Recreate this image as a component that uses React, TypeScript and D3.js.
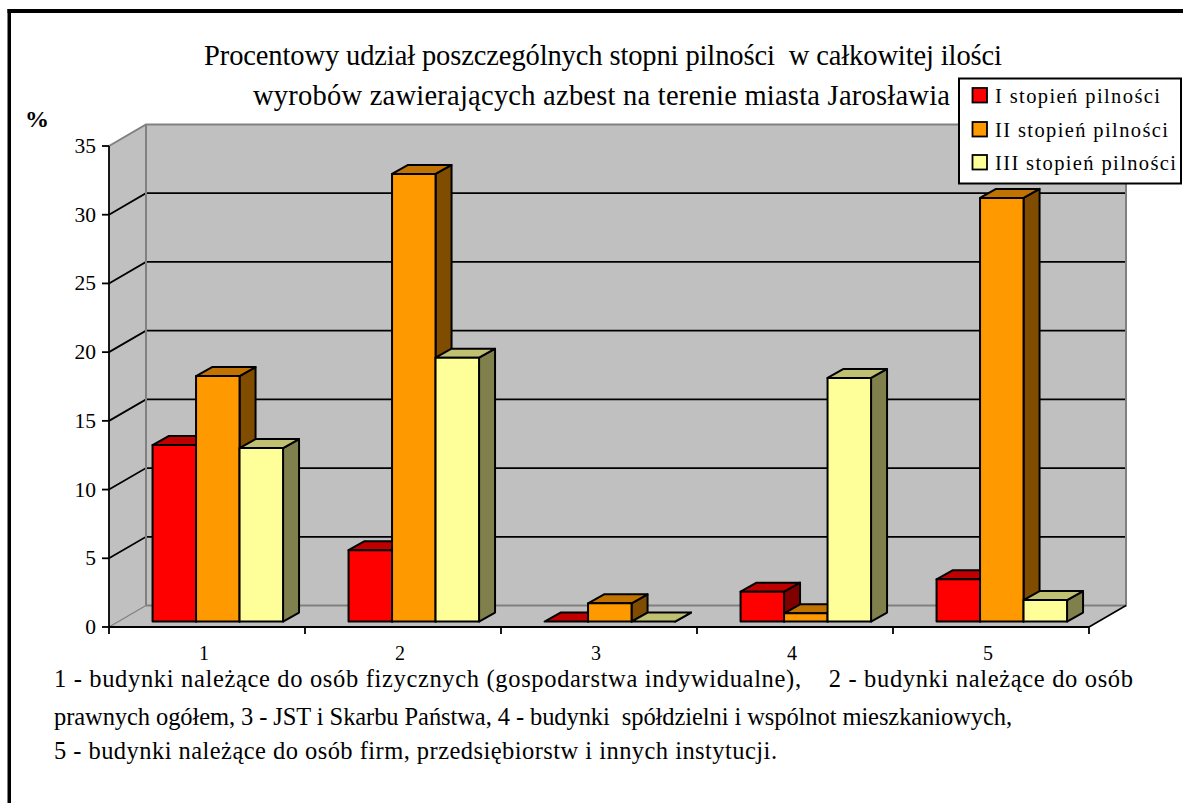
import React from "react";
import * as d3 from "d3";

const categories = ["1", "2", "3", "4", "5"];
const seriesNames = ["I stopień pilności", "II stopień pilności", "III stopień pilności"];
const stopienI = [12.85, 5.2, 0, 2.18, 3.08];
const stopienII = [17.87, 32.57, 1.33, 0.6, 30.83];
const stopienIII = [12.63, 19.2, 0, 17.73, 1.57];
const yTicks = [0, 5, 10, 15, 20, 25, 30, 35];
const titleLines = [
  "Procentowy udział poszczególnych stopni pilności  w całkowitej ilości",
  "wyrobów zawierających azbest na terenie miasta Jarosławia",
];
const noteLines = [
  "1 - budynki należące do osób fizycznych (gospodarstwa indywidualne),    2 - budynki należące do osób",
  "prawnych ogółem, 3 - JST i Skarbu Państwa, 4 - budynki  spółdzielni i wspólnot mieszkaniowych,",
  "5 - budynki należące do osób firm, przedsiębiorstw i innych instytucji.",
];

const palette = [
  { front: "#FF0000", top: "#C00000", side: "#800000" },
  { front: "#FF9900", top: "#C07300", side: "#804D00" },
  { front: "#FFFF99", top: "#C0C073", side: "#80804D" },
];
const FONT = "'Liberation Serif', serif";

export default function App() {
  const x = d3.scaleBand<string>().domain(categories).range([109, 1089]);
  const y = d3.scaleLinear().domain([0, 35]).range([627, 146]);
  const dx = 37, dy = -21.5;
  const series = [stopienI, stopienII, stopienIII];
  const barW = 43.5, bdx = 16, bdy = -9;
  const baseShift = -5.4;
  const groupOffset = 10.8;

  const bars = categories.flatMap((c, ci) =>
    series.map((s, si) => {
      const left = x(c)! + x.bandwidth() / 2 + groupOffset - (3 * barW) / 2 + si * barW;
      const right = left + barW;
      const bottom = y(0) + baseShift;
      const top = y(s[ci]) + baseShift;
      return { key: `${ci}-${si}`, left, right, bottom, top, col: palette[si], h: s[ci] };
    })
  );

  const legendRows = [0, 1, 2];
  const legendEnds = [1160, 1168, 1176];
  const legendY = [88, 122, 155];
  const titleX = [[204, 1002], [253, 950]];
  const titleBase = [65, 105];
  const noteX = [[54, 1133], [54, 1012], [54, 777]];
  const noteBase = [687, 725, 759];

  return (
    <svg width={1183} height={803} style={{ position: "absolute", left: 0, top: 0, display: "block", background: "#fff" }} fontFamily={FONT}>
      <rect x={7.5} y={9} width={3.5} height={794} fill="#000" />
      <rect x={7.5} y={9} width={1176} height={4} fill="#000" />

      {/* walls */}
      <polygon points={`109,${y(35)} ${109 + dx},${y(35) + dy} ${1089 + dx},${y(35) + dy} ${1089 + dx},${y(0) + dy} 1089,${y(0)} 109,${y(0)}`} fill="#C0C0C0" />
      {yTicks.filter((t) => t > 0 && t < 35).map((t) => (
        <polyline key={t} points={`109,${y(t)} ${109 + dx},${y(t) + dy} ${1089 + dx},${y(t) + dy}`} fill="none" stroke="#000" strokeWidth={1.8} />
      ))}
      <polyline points={`109,${y(35)} ${109 + dx},${y(35) + dy} ${1089 + dx},${y(35) + dy} ${1089 + dx},${y(0) + dy} ${109 + dx},${y(0) + dy}`} fill="none" stroke="#808080" strokeWidth={2} />
      <line x1={109 + dx} x2={109 + dx} y1={y(35) + dy} y2={y(0) + dy} stroke="#808080" strokeWidth={2} />
      <line x1={109} y1={y(0)} x2={109 + dx} y2={y(0) + dy} stroke="#808080" strokeWidth={1.2} />

      {/* bars */}
      {bars.map((b) => (
        <g key={b.key} stroke="#000" strokeWidth={2} strokeLinejoin="round">
          <polygon points={`${b.right},${b.top} ${b.right + bdx},${b.top + bdy} ${b.right + bdx},${b.bottom + bdy} ${b.right},${b.bottom}`} fill={b.col.side} />
          <polygon points={`${b.left},${b.top} ${b.left + bdx},${b.top + bdy} ${b.right + bdx},${b.top + bdy} ${b.right},${b.top}`} fill={b.col.top} />
          {b.h > 0 && <rect x={b.left} y={b.top} width={barW} height={b.bottom - b.top} fill={b.col.front} />}
        </g>
      ))}

      {/* axes */}
      <line x1={109} x2={109} y1={y(35)} y2={y(0)} stroke="#000" strokeWidth={1.8} />
      <line x1={109} x2={1089} y1={y(0)} y2={y(0)} stroke="#000" strokeWidth={1.8} />
      <line x1={1089} y1={y(0)} x2={1089 + dx} y2={y(0) + dy} stroke="#000" strokeWidth={1.6} />
      {yTicks.map((t) => (
        <g key={t}>
          <line x1={102} x2={109} y1={y(t)} y2={y(t)} stroke="#000" strokeWidth={1.8} />
          <text x={96} y={y(t) + 7} textAnchor="end" fontSize={21.5} fill="#000">{t}</text>
        </g>
      ))}
      {[...categories.map((c) => x(c)!), 1089].map((v) => (
        <line key={v} x1={v} x2={v} y1={y(0)} y2={y(0) + 7} stroke="#000" strokeWidth={1.8} />
      ))}
      {categories.map((c) => (
        <text key={c} x={x(c)! + x.bandwidth() / 2 - 3} y={660} textAnchor="middle" fontSize={20} fill="#000">{c}</text>
      ))}
      <text x={25} y={127} fontSize={24} fontWeight="bold" fill="#000">%</text>

      {/* title */}
      {titleLines.map((t, i) => (
        <text key={i} x={titleX[i][0]} y={titleBase[i]} fontSize={28.5} fill="#000" textLength={titleX[i][1] - titleX[i][0]} lengthAdjust="spacing" style={{ whiteSpace: "pre" }}>{t}</text>
      ))}

      {/* legend */}
      <rect x={959} y={78.5} width={222} height={105} fill="#fff" stroke="#000" strokeWidth={2} />
      {legendRows.map((i) => (
        <g key={i}>
          <rect x={972.5} y={legendY[i]} width={14.5} height={14.5} fill={palette[i].front} stroke="#000" strokeWidth={1.8} />
          <text x={995} y={legendY[i] + 15} fontSize={20.5} fill="#000" textLength={legendEnds[i] - 995} lengthAdjust="spacing">{seriesNames[i]}</text>
        </g>
      ))}

      {/* notes */}
      {noteLines.map((t, i) => (
        <text key={i} x={noteX[i][0]} y={noteBase[i]} fontSize={24.5} fill="#000" textLength={noteX[i][1] - noteX[i][0]} lengthAdjust="spacing" style={{ whiteSpace: "pre" }}>{t}</text>
      ))}
    </svg>
  );
}
